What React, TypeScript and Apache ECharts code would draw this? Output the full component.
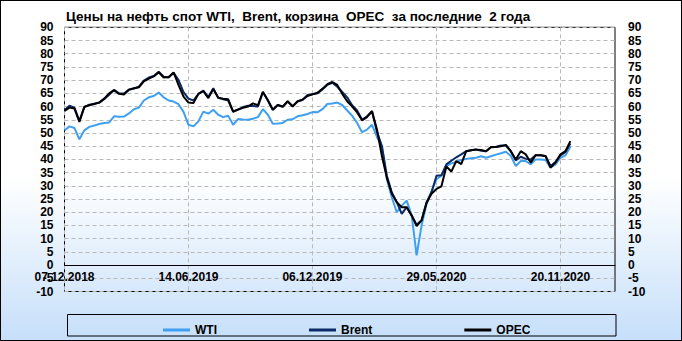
import React, { useEffect, useRef } from 'react';
import * as echarts from 'echarts';

const titleText = 'Цены на нефть спот WTI,  Brent, корзина  OPEC  за последние  2 года';
const seriesNames = ['WTI', 'Brent', 'OPEC'];
const tickLabels = ['07.12.2018', '14.06.2019', '06.12.2019', '29.05.2020', '20.11.2020'];
const skippedWeeks = ['28.12.2018', '04.01.2019'];
const categoryCount = 112;

const wti = [
  50.9, 52.5, 51.9, 47.6, 51.0, 52.3, 52.8, 53.4, 53.8, 54.0,
  56.3, 56.1, 56.2, 57.4, 59.0, 59.6, 62.3, 63.5, 64.0, 65.3,
  63.5, 62.3, 61.9, 60.9, 58.0, 53.1, 52.5, 54.4, 58.1, 57.3,
  58.8, 56.9, 56.0, 56.5, 53.1, 55.3, 55.1, 55.0, 55.4, 56.0,
  59.0, 56.9, 53.5, 53.6, 53.8, 55.0, 55.2, 56.3, 56.7, 57.2,
  57.9, 57.8, 59.0, 61.0, 61.2, 61.5, 60.6, 58.5, 56.5, 53.8,
  50.3, 51.3, 53.1, 48.5, 45.0, 32.5, 25.6, 20.0, 22.5, 24.4,
  18.8, 3.7, 15.0, 23.1, 28.0, 32.5, 33.8, 37.5, 38.5, 39.0,
  39.8, 40.2, 40.4, 40.6, 41.2, 40.6, 41.2, 41.8, 42.3, 42.9,
  41.3, 37.5, 39.4, 39.4, 38.1, 40.0, 40.0, 39.8, 36.9, 38.1,
  40.6, 41.5, 44.8,
];

const brent = [
  58.6, 60.3, 59.6, 54.6, 59.8, 60.7, 61.1, 61.5, 62.8, 64.5,
  66.3, 65.0, 64.9, 66.4, 66.8, 67.5, 69.8, 71.0, 71.6, 73.2,
  71.3, 71.0, 72.8, 70.0, 65.5, 63.0, 62.3, 64.8, 66.0, 63.6,
  66.9, 63.3, 62.8, 62.3, 58.2, 58.8, 59.8, 60.3, 60.2, 60.0,
  65.4, 62.5, 58.8, 60.6, 60.0, 61.9, 60.2, 61.9, 62.6, 64.4,
  64.7, 65.0, 66.5, 68.2, 69.0, 67.5, 65.5, 63.5, 60.5, 58.5,
  55.0, 56.3, 58.1, 50.5, 45.0, 33.8, 27.5, 23.8, 19.4, 21.9,
  18.8, 15.3, 17.0, 23.8, 27.5, 33.8, 34.0, 38.1, 39.5, 40.8,
  41.9, 43.1, 43.5, 43.8, 43.3, 43.1, 44.6, 44.7, 45.3, 45.2,
  43.0, 39.6, 41.0, 40.2, 40.0, 41.6, 41.6, 41.2, 37.5, 39.0,
  41.5, 42.7, 46.0,
];

const opec = [
  58.4, 59.6, 59.3, 54.2, 59.9, 60.5, 61.0, 61.5, 63.0, 65.0,
  66.2, 64.8, 64.6, 66.4, 66.9, 67.3, 69.5, 70.6, 71.4, 73.0,
  71.0, 71.2, 72.9, 68.1, 63.8, 61.5, 61.3, 64.8, 65.8, 63.2,
  66.6, 63.3, 63.0, 62.8, 58.0, 58.9, 59.5, 60.0, 61.2, 60.5,
  65.6, 62.3, 58.8, 60.6, 59.9, 62.0, 60.0, 62.0, 62.6, 64.0,
  64.6, 65.2, 66.7, 68.5, 69.3, 68.2, 64.8, 62.0, 60.0, 57.8,
  54.8, 56.0, 58.3, 51.3, 41.3, 33.0, 27.0, 23.8, 21.9, 21.9,
  18.8, 14.8, 16.9, 23.5, 27.0, 28.8, 29.8, 37.3, 35.4, 39.4,
  38.2, 43.1, 43.5, 43.7, 43.6, 43.1, 44.7, 44.7, 45.0, 45.5,
  43.1, 40.0, 43.1, 41.9, 38.8, 41.6, 41.6, 41.3, 36.9, 38.8,
  41.9, 43.1, 46.9,
];

const seriesColors = ['#3f9ff0', '#0c2a68', '#000000'];

function fmt(d: Date): string {
  const dd = String(d.getUTCDate()).padStart(2, '0');
  const mm = String(d.getUTCMonth() + 1).padStart(2, '0');
  return `${dd}.${mm}.${d.getUTCFullYear()}`;
}

// weekly Friday dates starting at the first tick label, holiday weeks skipped
function buildWeeks(): string[] {
  const out: string[] = [];
  const [d0, m0, y0] = tickLabels[0].split('.').map(Number);
  let t = Date.UTC(y0, m0 - 1, d0);
  while (out.length < categoryCount) {
    const s = fmt(new Date(t));
    if (!skippedWeeks.includes(s)) out.push(s);
    t += 7 * 24 * 3600 * 1000;
  }
  return out;
}

const weeks = buildWeeks();
const FONT = '"Liberation Sans", Arial, sans-serif';

export default function App() {
  const ref = useRef<HTMLDivElement>(null);

  useEffect(() => {
    if (!ref.current) return;
    const chart = echarts.init(ref.current, undefined, { renderer: 'svg' });
    const axisText = { color: '#000', fontSize: 12, fontWeight: 'bold' as const, fontFamily: FONT };
    const yBase = {
      type: 'value' as const,
      min: -10,
      max: 90,
      interval: 5,
      axisLine: { show: false },
      axisTick: { show: false },
    };
    chart.setOption({
      animation: false,
      backgroundColor: 'transparent',
      title: {
        text: titleText,
        left: 61,
        top: 4,
        textStyle: { color: '#000', fontSize: 13.5, fontWeight: 'bold', fontFamily: FONT },
      },
      legend: {
        data: seriesNames,
        left: 158,
        top: 319,
        icon: 'rect',
        itemWidth: 27,
        itemHeight: 3,
        itemGap: 92,
        textStyle: { color: '#000', fontSize: 12, fontWeight: 'bold', fontFamily: FONT },
      },
      grid: {
        left: 64.5,
        right: 67,
        top: 27.3,
        bottom: 49.5,
        show: true,
        borderColor: '#000',
        borderWidth: 1,
        backgroundColor: 'transparent',
      },
      xAxis: {
        type: 'category',
        data: weeks,
        boundaryGap: false,
        offset: -26.3,
        axisLine: { show: true, onZero: false, lineStyle: { color: '#000', width: 1 } },
        axisTick: { show: false },
        axisLabel: { ...axisText, interval: 24, margin: 6, hideOverlap: false },
        splitLine: { show: true, interval: 24, lineStyle: { color: '#b8b8b8', type: [4, 3], width: 1 } },
      },
      yAxis: [
        {
          ...yBase,
          position: 'left',
          axisLabel: { ...axisText, margin: 11 },
          splitLine: { show: true, lineStyle: { color: '#b8b8b8', type: [4, 3], width: 1 } },
        },
        {
          ...yBase,
          position: 'right',
          axisLabel: { ...axisText, margin: 13, align: 'left' },
          splitLine: { show: false },
        },
      ],
      series: [wti, brent, opec].map((d, i) => ({
        name: seriesNames[i],
        type: 'line',
        data: d,
        yAxisIndex: 0,
        showSymbol: false,
        symbol: 'none',
        lineStyle: { color: seriesColors[i], width: 2 },
        itemStyle: { color: seriesColors[i] },
      })),
      graphic: [
        {
          type: 'rect',
          shape: { x: 67.5, y: 314.5, width: 548.5, height: 21.5 },
          style: { fill: 'none', stroke: '#000', lineWidth: 1 },
          silent: true,
        },
      ],
    });
    return () => chart.dispose();
  }, []);

  return (
    <div
      style={{
        position: 'absolute',
        left: 0,
        top: 0,
        width: 682,
        height: 341,
        boxSizing: 'border-box',
        border: '1px solid #000',
        background: 'linear-gradient(to bottom, #ffffff 0%, #ffffff 52%, #c6dffa 100%)',
      }}
    >
      <div ref={ref} style={{ position: 'absolute', left: -1, top: -1, width: 682, height: 341 }} />
    </div>
  );
}
